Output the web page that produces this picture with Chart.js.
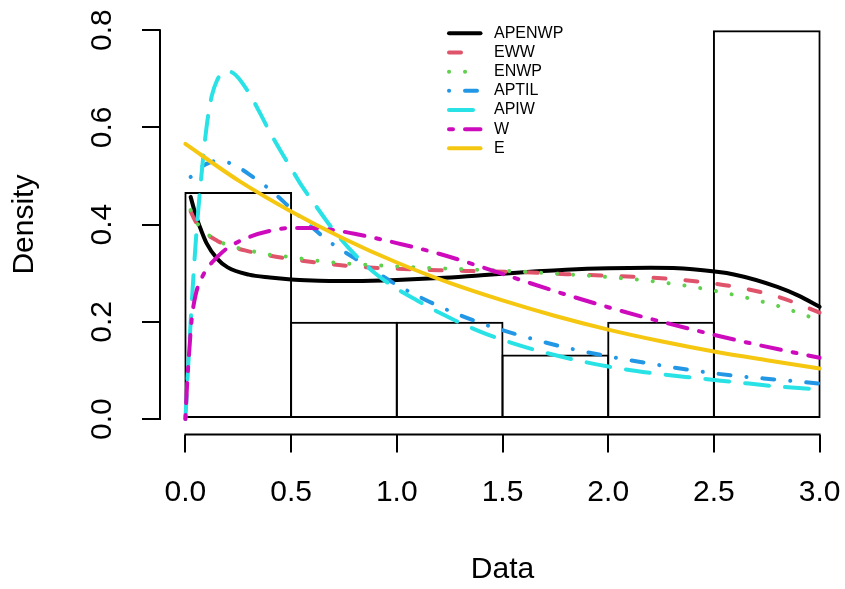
<!DOCTYPE html>
<html>
<head>
<meta charset="utf-8">
<script src="https://cdn.jsdelivr.net/npm/chart.js@4.4.1/dist/chart.umd.min.js"></script>
<style>
  html, body { margin: 0; padding: 0; background: #fff; }
  #wrap { width: 845px; height: 589px; }
</style>
</head>
<body>
<div id="wrap"><canvas id="chart" width="845" height="589"></canvas></div>
<script>
// --- DATA ---
const binMids = [0.25, 0.75, 1.25, 1.75, 2.25, 2.75];
const histDensity = [0.467, 0.2, 0.2, 0.133, 0.2, 0.8];

const xTicks = [0, 0.5, 1, 1.5, 2, 2.5, 3];
const xTickLabels = ['0.0', '0.5', '1.0', '1.5', '2.0', '2.5', '3.0'];
const yTicks = [0, 0.2, 0.4, 0.6, 0.8];
const yTickLabels = ['0.0', '0.2', '0.4', '0.6', '0.8'];

const seriesNames = ['APENWP', 'EWW', 'ENWP', 'APTIL', 'APIW', 'W', 'E'];

const apenwpX = [0.025, 0.05, 0.075, 0.1, 0.15, 0.2, 0.3, 0.4, 0.5, 0.6, 0.7, 0.8, 1.0, 1.2, 1.4, 1.6, 1.8, 2.0, 2.2, 2.4, 2.6, 2.8, 2.9, 3.0];
const apenwpY = [0.457, 0.418, 0.388, 0.362, 0.330, 0.312, 0.297, 0.291, 0.287, 0.285, 0.284, 0.284, 0.286, 0.290, 0.296, 0.302, 0.307, 0.310, 0.311, 0.308, 0.297, 0.272, 0.254, 0.231];

const ewwX = [0.025, 0.05, 0.1, 0.15, 0.2, 0.3, 0.4, 0.5, 0.6, 0.7, 0.8, 1.0, 1.2, 1.4, 1.6, 1.8, 2.0, 2.2, 2.4, 2.6, 2.8, 3.0];
const ewwY = [0.427, 0.405, 0.381, 0.367, 0.357, 0.345, 0.336, 0.329, 0.323, 0.318, 0.314, 0.309, 0.306, 0.304, 0.302, 0.298, 0.295, 0.291, 0.284, 0.272, 0.252, 0.219];

const enwpX = [0.025, 0.05, 0.1, 0.15, 0.2, 0.3, 0.4, 0.5, 0.6, 0.7, 0.8, 1.0, 1.2, 1.4, 1.6, 1.8, 2.0, 2.2, 2.4, 2.6, 2.8, 3.0];
const enwpY = [0.430, 0.407, 0.382, 0.368, 0.358, 0.347, 0.338, 0.333, 0.327, 0.322, 0.319, 0.314, 0.310, 0.307, 0.303, 0.298, 0.292, 0.284, 0.272, 0.255, 0.233, 0.203];

const aptilX = [0.025, 0.05, 0.1, 0.15, 0.2, 0.25, 0.3, 0.4, 0.5, 0.6, 0.7, 0.8, 0.9, 1.0, 1.2, 1.4, 1.6, 1.8, 2.0, 2.2, 2.4, 2.6, 2.8, 3.0];
const aptilY = [0.498, 0.510, 0.525, 0.531, 0.528, 0.518, 0.504, 0.472, 0.433, 0.394, 0.359, 0.331, 0.303, 0.276, 0.232, 0.197, 0.170, 0.147, 0.129, 0.114, 0.100, 0.089, 0.081, 0.073];

const apiwX = [0, 0.025, 0.05, 0.075, 0.1, 0.125, 0.15, 0.175, 0.2, 0.225, 0.25, 0.3, 0.35, 0.4, 0.45, 0.5, 0.55, 0.6, 0.7, 0.8, 0.9, 1.0, 1.1, 1.2, 1.4, 1.6, 1.8, 2.0, 2.2, 2.4, 2.6, 2.8, 3.0];
const apiwY = [0, 0.200, 0.370, 0.497, 0.600, 0.665, 0.697, 0.712, 0.716, 0.712, 0.702, 0.671, 0.632, 0.590, 0.552, 0.516, 0.480, 0.449, 0.389, 0.339, 0.299, 0.268, 0.243, 0.219, 0.179, 0.149, 0.126, 0.108, 0.095, 0.085, 0.076, 0.067, 0.061];

const wX = [0, 0.008, 0.016, 0.03, 0.05, 0.075, 0.1, 0.15, 0.2, 0.3, 0.4, 0.5, 0.6, 0.7, 0.8, 0.9, 1.0, 1.2, 1.4, 1.6, 1.8, 2.0, 2.2, 2.4, 2.6, 2.8, 3.0];
const wY = [0, 0.070, 0.125, 0.205, 0.258, 0.288, 0.308, 0.333, 0.352, 0.374, 0.387, 0.393, 0.393, 0.389, 0.381, 0.372, 0.362, 0.340, 0.313, 0.284, 0.256, 0.230, 0.206, 0.184, 0.163, 0.144, 0.126];

const eX = [0, 0.25, 0.5, 0.75, 1.0, 1.25, 1.5, 1.75, 2.0, 2.25, 2.5, 2.75, 3.0];
const eY = [0.566, 0.491, 0.427, 0.371, 0.322, 0.280, 0.244, 0.212, 0.184, 0.160, 0.139, 0.121, 0.104];

const seriesX = [apenwpX, ewwX, enwpX, aptilX, apiwX, wX, eX];
const seriesY = [apenwpY, ewwY, enwpY, aptilY, apiwY, wY, eY];

// --- STYLE ---
const FONT = '"Liberation Sans", Arial, Helvetica, sans-serif';
const AXIS_PX = 30;
const lineColors = ['#000000', '#DF536B', '#61D04F', '#2297E6', '#28E2E5', '#CD0BBC', '#F5C710'];
const lineDashes = [[], [12, 20], [0.1, 15.9], [0.1, 15.9, 12, 16], [24, 16], [4, 12, 20, 12], []];
const LINE_W = 4;
const BAR_W = 2;

Chart.defaults.font.family = FONT;
Chart.defaults.color = '#000';

const datasets = [{
  type: 'bar',
  data: binMids.map((x, i) => ({ x: x, y: histDensity[i] })),
  backgroundColor: 'rgba(0,0,0,0)',
  borderColor: '#000',
  borderWidth: BAR_W,
  borderSkipped: false,
  // widen by one border so the inset outlines sit centred on the bin edges
  barPercentage: 1.019,
  categoryPercentage: 1,
  order: 100
}];
seriesNames.forEach((name, i) => {
  datasets.push({
    type: 'line',
    label: name,
    data: seriesX[i].map((x, j) => ({ x: x, y: seriesY[i][j] })),
    borderColor: lineColors[i],
    borderWidth: LINE_W,
    borderDash: lineDashes[i],
    borderCapStyle: 'round',
    borderJoinStyle: 'round',
    cubicInterpolationMode: 'monotone',
    pointRadius: 0,
    fill: false,
    order: seriesNames.length - i
  });
});

// axis lines (R style, first to last tick), rotated y labels, legend
const rExtras = {
  id: 'rExtras',
  afterDraw(chart) {
    const { ctx, chartArea, scales } = chart;
    const x = scales.x, y = scales.y;
    ctx.save();
    ctx.strokeStyle = '#000';
    ctx.lineWidth = 2;
    ctx.beginPath();
    ctx.moveTo(x.getPixelForValue(xTicks[0]) - 1, chartArea.bottom);
    ctx.lineTo(x.getPixelForValue(xTicks[xTicks.length - 1]) + 1, chartArea.bottom);
    ctx.moveTo(chartArea.left, y.getPixelForValue(yTicks[0]) + 1);
    ctx.lineTo(chartArea.left, y.getPixelForValue(yTicks[yTicks.length - 1]) - 1);
    ctx.stroke();

    ctx.fillStyle = '#000';
    ctx.font = AXIS_PX + 'px ' + FONT;
    ctx.textAlign = 'center';
    ctx.textBaseline = 'middle';
    yTicks.forEach((v, i) => {
      ctx.save();
      ctx.translate(102.5, y.getPixelForValue(v));
      ctx.rotate(-Math.PI / 2);
      ctx.fillText(yTickLabels[i], 0, 0);
      ctx.restore();
    });

    // legend, no box
    ctx.font = '16px ' + FONT;
    ctx.textAlign = 'left';
    seriesNames.forEach((name, i) => {
      const ly = 33.3 + i * 19.17;
      ctx.save();
      ctx.strokeStyle = lineColors[i];
      ctx.lineWidth = LINE_W;
      ctx.lineCap = 'round';
      ctx.setLineDash(lineDashes[i]);
      ctx.beginPath();
      ctx.moveTo(449, ly);
      ctx.lineTo(480.5, ly);
      ctx.stroke();
      ctx.restore();
      ctx.fillText(name, 494, ly);
    });
    ctx.restore();
  }
};

new Chart(document.getElementById('chart'), {
  type: 'line',
  data: { datasets: datasets },
  options: {
    responsive: false,
    animation: false,
    devicePixelRatio: 1,
    layout: { padding: { top: 14.6, right: 0, left: 0, bottom: 0 } },
    plugins: { legend: { display: false }, tooltip: { enabled: false } },
    scales: {
      x: {
        type: 'linear',
        min: -0.12,
        max: 3.12,
        offset: false,
        afterBuildTicks: s => { s.ticks = xTicks.map(v => ({ value: v })); },
        afterFit: s => { s.height = 154.4; s.paddingLeft = 0; s.paddingRight = 0; },
        grid: { offset: false, drawOnChartArea: false, drawTicks: true, tickLength: 18, color: '#000', lineWidth: 2 },
        border: { display: false },
        ticks: {
          callback: (v, i) => xTickLabels[i],
          font: { size: AXIS_PX },
          color: '#000',
          padding: 22.5,
          maxRotation: 0,
          autoSkip: false
        },
        title: { display: true, text: 'Data', font: { size: AXIS_PX }, color: '#000', padding: { top: 0, bottom: 1 } }
      },
      y: {
        type: 'linear',
        min: -0.032,
        max: 0.832,
        afterBuildTicks: s => { s.ticks = yTicks.map(v => ({ value: v })); },
        afterFit: s => { s.width = 160; s.paddingTop = 0; s.paddingBottom = 0; },
        grid: { offset: false, drawOnChartArea: false, drawTicks: true, tickLength: 18, color: '#000', lineWidth: 2 },
        border: { display: false },
        ticks: { display: false },
        title: { display: true, text: 'Density', font: { size: AXIS_PX }, color: '#000', padding: { top: 7, bottom: 0 } }
      }
    }
  },
  plugins: [rExtras]
});
</script>
</body>
</html>
